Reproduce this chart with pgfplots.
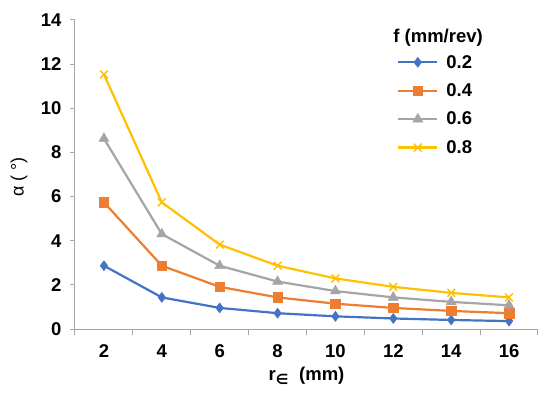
\documentclass[border=0pt]{standalone}
\usepackage{pgfplots}
\pgfplotsset{compat=1.18}
\usepackage{fontspec}
\setmainfont{Liberation Sans}
\newfontfamily\dejavu{DejaVu Sans}
\definecolor{cblue}{HTML}{4472C4}
\definecolor{corange}{HTML}{ED7D31}
\definecolor{cgray}{HTML}{A5A5A5}
\definecolor{cgold}{HTML}{FFC000}
\definecolor{axgray}{HTML}{A6A6A6}
\begin{document}
\begin{tikzpicture}
\path[use as bounding box] (-75pt,-68pt) rectangle (475pt,329pt);
\begin{axis}[
  at={(0,0)}, anchor=south west,
  scale only axis, width=463pt, height=309pt,
  font=\fontsize{18.5}{22}\selectfont\bfseries,
  /pgf/number format/assume math mode=true,
  xmin=-0.5, xmax=7.5, ymin=0, ymax=14,
  ytick={0,2,...,14},
  xtick={0,...,7}, xticklabels={2,4,6,8,10,12,14,16},
  minor xtick={-0.5,0.5,...,7.5},
  major x tick style={draw=none},
  minor tick length=6pt, major tick length=5pt,
  tick align=outside,
  axis x line*=bottom, axis y line*=left,
  axis line style={draw=axgray, line width=1pt, -},
  tick style={draw=axgray, line width=1pt},
  every tick label/.append style={text=black},
  xticklabel style={yshift=-7pt},
  yticklabel style={xshift=-5pt},
  xlabel={r\textsubscript{\dejavu\fontsize{14}{14}\selectfont ∈}\ \ (mm)},
  ylabel={α ( °)},
  every axis x label/.style={at={(rel axis cs:0.5,0)}, anchor=center, yshift=-47pt},
  every axis y label/.style={at={(rel axis cs:0,0.492)}, anchor=center, rotate=90, yshift=56pt, font=\fontsize{18}{22}\selectfont\mdseries},
  legend style={draw=none, fill=none, at={(rel axis cs:0.689,0.9),}, anchor=north west,
    font=\fontsize{18.5}{22}\selectfont\bfseries, row sep=10pt,
    /tikz/every odd column/.append style={column sep=6pt}},
  legend cell align=left,
  legend image code/.code={\draw[mark repeat=2,mark phase=2,#1] plot coordinates {(0pt,0pt) (19.5pt,0pt) (39pt,0pt)};},
  every axis plot/.append style={line width=2.2pt},
]
\addplot[color=cblue, mark=diamond*, mark size=5pt, mark options={line width=0.5pt}]
  coordinates {(0,2.866) (1,1.432) (2,0.955) (3,0.716) (4,0.573) (5,0.477) (6,0.409) (7,0.358)};
\addlegendentry{0.2}
\addplot[color=corange, mark=square*, mark size=4.8pt, mark options={line width=0.5pt}]
  coordinates {(0,5.739) (1,2.866) (2,1.910) (3,1.432) (4,1.146) (5,0.955) (6,0.819) (7,0.716)};
\addlegendentry{0.4}
\addplot[color=cgray, mark=triangle*, mark size=5.8pt, mark options={line width=0.5pt}]
  coordinates {(0,8.627) (1,4.301) (2,2.866) (3,2.149) (4,1.719) (5,1.432) (6,1.228) (7,1.074)};
\addlegendentry{0.6}
\addplot[color=cgold, mark=x, mark size=5.5pt, mark options={line width=1.4pt}]
  coordinates {(0,11.537) (1,5.739) (2,3.823) (3,2.866) (4,2.292) (5,1.910) (6,1.637) (7,1.432)};
\addlegendentry{0.8}
\node[anchor=west, font=\fontsize{18.5}{22}\selectfont\bfseries] at (rel axis cs:0.680,0.942) {f (mm/rev)};
\end{axis}
\end{tikzpicture}
\end{document}
